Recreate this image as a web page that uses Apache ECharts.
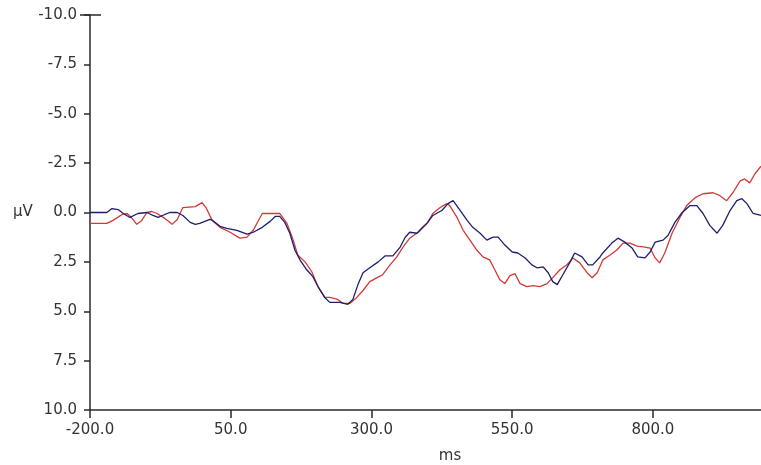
<!DOCTYPE html>
<html>
<head>
<meta charset="utf-8">
<script src="https://cdn.jsdelivr.net/npm/echarts@6/dist/echarts.min.js"></script>
<style>
html,body{margin:0;padding:0;background:#fff;}
#chart{width:761px;height:465px;}
</style>
</head>
<body>
<div id="chart"></div>
<script>
// ---- data (ms, µV) ----
var xTicks = [-200, 50, 300, 550, 800];
var yMin = -10, yMax = 10, yStep = 2.5;
var xMin = -200, xMax = 992;

var blueMs = [-200,-170,-161,-150,-141,-129,-115,-99,-88,-79,
  -67,-58,-45,-35,-22,-13,-5,4,13,18,
  31,43,61,79,90,106,120,129,137,146,
  155,164,173,185,196,205,217,226,244,258,
  267,276,285,297,312,324,338,351,360,368,
  381,391,400,409,425,436,445,454,470,480,
  493,505,516,525,537,550,560,573,585,594,
  605,614,622,630,640,653,661,674,685,693,
  706,711,727,738,750,763,773,786,795,804,
  818,827,839,852,866,878,889,901,914,924,
  937,949,958,967,978,992];
var blueUv = [0,0,-0.2,-0.15,0.05,0.25,0.05,0,0.15,0.25,
  0.1,0,0,0.15,0.5,0.6,0.55,0.45,0.35,0.4,
  0.7,0.8,0.9,1.1,1.0,0.75,0.45,0.2,0.2,0.5,
  1.05,1.9,2.4,2.9,3.25,3.75,4.3,4.55,4.55,4.65,
  4.4,3.65,3.05,2.8,2.5,2.2,2.2,1.75,1.25,1.0,
  1.05,0.75,0.5,0.15,-0.1,-0.45,-0.6,-0.25,0.4,0.75,
  1.05,1.4,1.25,1.25,1.65,2.0,2.05,2.3,2.65,2.8,
  2.75,3.05,3.5,3.65,3.15,2.5,2.05,2.25,2.65,2.65,
  2.25,2.05,1.55,1.3,1.5,1.8,2.25,2.3,2.0,1.5,
  1.4,1.15,0.5,0,-0.35,-0.35,0.05,0.65,1.05,0.65,
  -0.1,-0.6,-0.7,-0.45,0.05,0.15];

var redMs = [-200,-170,-159,-143,-134,-125,-117,-108,-99,-90,
  -81,-67,-54,-45,-35,-13,-1,6,17,31,
  49,66,79,90,106,137,150,161,169,182,
  194,205,217,226,240,249,262,274,285,297,
  310,320,333,345,356,368,383,399,409,422,
  434,439,452,463,475,487,498,510,519,528,
  537,546,555,564,576,587,599,612,622,635,
  647,658,670,683,692,701,711,724,736,747,
  759,772,786,795,804,812,821,834,848,860,
  875,889,907,919,931,942,955,963,972,981,
  992];
var redUv = [0.55,0.55,0.4,0.1,0.05,0.3,0.6,0.4,0,-0.05,
  0.05,0.3,0.6,0.35,-0.25,-0.3,-0.5,-0.25,0.4,0.75,
  1.0,1.3,1.25,0.9,0.05,0.05,0.55,1.4,2.15,2.5,
  3.0,3.75,4.3,4.3,4.4,4.6,4.6,4.3,3.95,3.5,
  3.3,3.15,2.65,2.25,1.75,1.3,1.0,0.55,0.05,-0.25,
  -0.45,-0.35,0.25,0.9,1.4,1.9,2.25,2.4,2.9,3.4,
  3.6,3.2,3.1,3.6,3.75,3.7,3.75,3.6,3.3,2.9,
  2.65,2.3,2.55,3.05,3.3,3.05,2.4,2.15,1.9,1.55,
  1.55,1.7,1.75,1.8,2.3,2.55,2.05,1.05,0.25,-0.35,
  -0.75,-0.95,-1.0,-0.85,-0.6,-1.0,-1.6,-1.7,-1.5,-1.95,
  -2.35];

function pairs(xs, ys){ return xs.map(function(x,i){ return [x, ys[i]]; }); }

(function(){
  var FONT = 'DejaVu Sans';
  var chart = echarts.init(document.getElementById('chart'), null, {renderer:'canvas'});
  chart.setOption({
    animation: false,
    backgroundColor: '#ffffff',
    grid: {left: 90, right: 0, top: 15, bottom: 55, containLabel: false},
    xAxis: {
      type: 'value', min: xMin, max: xMax,
      axisLine: {show: true, onZero: false, lineStyle: {color: '#2a2a2a', width: 1.5}},
      axisTick: {show: true, length: 8, customValues: xTicks, lineStyle: {color: '#2a2a2a', width: 1.5}},
      axisLabel: {customValues: xTicks, margin: 13, color: '#333', fontFamily: FONT, fontSize: 15,
        formatter: function(v){ return Number(v).toFixed(1); }},
      splitLine: {show: false}
    },
    yAxis: {
      type: 'value', inverse: true, min: yMin, max: yMax, interval: yStep,
      axisLine: {show: true, onZero: false, lineStyle: {color: '#2a2a2a', width: 1.5}},
      axisTick: {show: true, length: 6, lineStyle: {color: '#2a2a2a', width: 1.5}},
      axisLabel: {margin: 13, color: '#333', fontFamily: FONT, fontSize: 15,
        formatter: function(v){ return Number(v).toFixed(1); }},
      splitLine: {show: false}
    },
    series: [
      {type: 'line', name: 'red', data: pairs(redMs, redUv), showSymbol: false, symbol: 'none',
        lineStyle: {color: '#d23a36', width: 1.3}, z: 2},
      {type: 'line', name: 'blue', data: pairs(blueMs, blueUv), showSymbol: false, symbol: 'none',
        lineStyle: {color: '#1c1f6e', width: 1.3}, z: 3}
    ]
  });

  var topY = chart.convertToPixel({yAxisIndex: 0}, yMin);
  var axX = chart.convertToPixel({xAxisIndex: 0}, xMin);
  var zeroY = chart.convertToPixel({yAxisIndex: 0}, 0);
  chart.setOption({
    graphic: [
      {type: 'line', shape: {x1: axX - 10, y1: topY, x2: axX + 11, y2: topY},
        style: {stroke: '#2a2a2a', lineWidth: 1.5}, z: 10},
      {type: 'text', x: 450, y: 456, style: {text: 'ms', fill: '#333', font: '15px "DejaVu Sans"',
        textAlign: 'center', textVerticalAlign: 'middle'}},
      {type: 'text', x: 13, y: zeroY, style: {text: 'µV', fill: '#333', font: '15px "DejaVu Sans"',
        textAlign: 'left', textVerticalAlign: 'middle'}}
    ]
  });
})();
</script>
</body>
</html>
